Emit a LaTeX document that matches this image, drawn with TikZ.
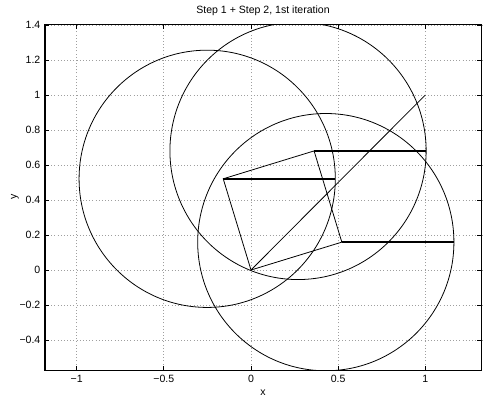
\documentclass[tikz,border=0pt]{standalone}
\usepackage{fontspec}
\setmainfont{Liberation Sans}
\tikzset{
  gridline/.style={gray!75, line width=0.4pt, dash pattern=on 0.5pt off 1.3pt},
  curve/.style={black, line width=0.45pt},
  link/.style={black, line width=0.8pt},
  ticklab/.style={inner sep=0pt},
}
\begin{document}
\begin{tikzpicture}[x=3.486cm, y=3.5cm, font=\fontsize{6}{7}\selectfont]
  \useasboundingbox (-1.4400,-0.7314) rectangle (1.3540,1.5429);
  \coordinate (LL) at (-1.1819,-0.5754);
  \coordinate (UR) at (1.3236,1.4040);
  % grid
  \foreach \gx in {-1,-0.5,0,0.5,1}
    \draw[gridline] (\gx,-0.5754) -- (\gx,1.404);
  \foreach \gy in {-0.4,-0.2,0,0.2,0.4,0.6,0.8,1,1.2,1.4}
    \draw[gridline] (-1.1819,\gy) -- (1.3236,\gy);
  % ticks and labels
  \foreach \gx/\lab in {-1/−1,-0.5/−0.5,0/0,0.5/0.5,1/1} {
    \draw[line width=0.45pt] (\gx,-0.5754) -- ++(0,0.09cm);
    \draw[line width=0.45pt] (\gx,1.404) -- ++(0,-0.09cm);
    \node[ticklab] (xl\gx) at (\gx,-0.623) {\lab};
  }
  \foreach \gy/\lab in {-0.4/−0.4,-0.2/−0.2,0/0,0.2/0.2,0.4/0.4,0.6/0.6,0.8/0.8,1/1,1.2/1.2,1.4/1.4} {
    \draw[line width=0.45pt] (-1.1819,\gy) -- ++(0.09cm,0);
    \draw[line width=0.45pt] (1.3236,\gy) -- ++(-0.09cm,0);
    \node[ticklab, anchor=east] (yl\gy) at (-1.2066,\gy) {\lab};
  }
  \node (title) at (0.069,1.48) {Step 1 + Step 2, 1st iteration};
  \node (xlabel) at (0.069,-0.699) {x};
  \node[rotate=90] (ylabel) at (-1.354,0.417) {y};
  % linkage
  \coordinate (O) at (0,0);
  \coordinate (A) at (-0.1593,0.5212);
  \coordinate (B) at (0.3619,0.6805);
  \coordinate (C) at (0.5212,0.1593);
  \coordinate (T) at (1,1);
  \begin{scope}
    \clip (LL) rectangle (UR);
    \foreach \v in {A,B,C} {
      \draw[link] (\v) -- ++(0.643,0);
      \draw[curve] (\v) ++(-0.092,0) circle[radius=0.735];
    }
    \draw[curve] (O) -- (A) -- (B) -- (C) -- cycle;
    \draw[curve] (O) -- (T);
  \end{scope}
  \draw[line width=0.7pt] (LL) rectangle (UR);
\end{tikzpicture}
\end{document}
